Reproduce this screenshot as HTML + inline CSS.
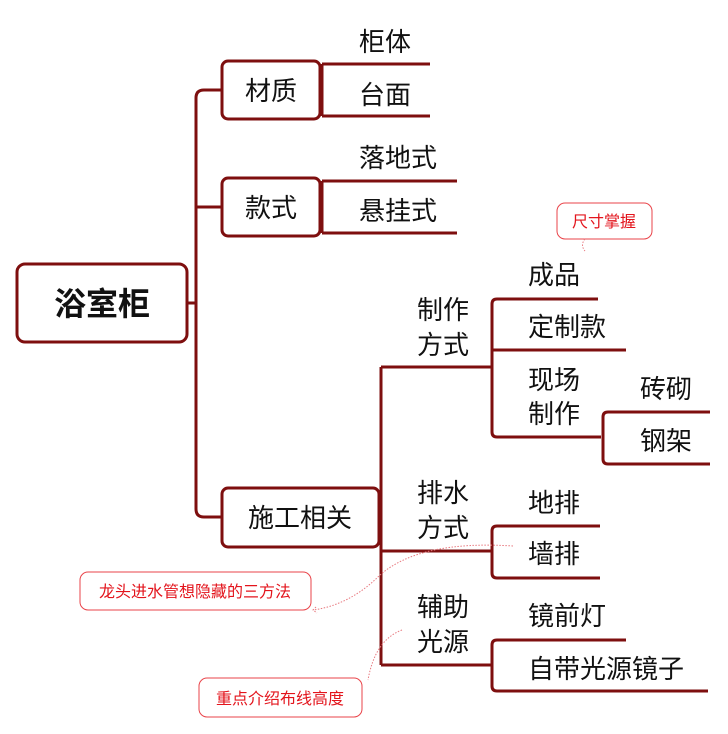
<!DOCTYPE html>
<html><head><meta charset="utf-8"><style>
html,body{margin:0;padding:0;background:#fff;}
svg{display:block;}
text{font-family:"Liberation Sans","Noto Sans CJK SC",sans-serif;fill:#111;}
.l{font-size:26px;}
.r{font-size:16px;fill:#e3141c;}
</style></head><body>
<svg width="728" height="734" viewBox="0 0 728 734" xmlns="http://www.w3.org/2000/svg">
<g fill="none" stroke="#7e0f0f" stroke-width="3">
<rect x="17" y="264" width="170" height="78" rx="8"/>
<rect x="222" y="61" width="98" height="58" rx="6"/>
<rect x="222" y="178" width="98" height="58" rx="6"/>
<rect x="222" y="488" width="157" height="59" rx="6"/>
<path d="M187 303 H196"/>
<path d="M222 90 H204 Q196 90 196 98 V509 Q196 517 204 517 H222"/>
<path d="M196 207 H222"/>
<path d="M322 64 V116 M322 64 H430 M322 116 H430 M320 90 H322"/>
<path d="M322 181 V233 M322 181 H457 M322 233 H457 M320 207 H322"/>
<path d="M379 517 H381 M381 367 V665 M381 367 H492 M381 551 H492 M381 665 H492"/>
<path d="M598 299 H497 Q492 299 492 304 V432 Q492 437 497 437 H601 M492 350 H626"/>
<path d="M710 412 H608 Q603 412 603 417 V459 Q603 464 608 464 H710"/>
<path d="M600 526 H497 Q492 526 492 531 V573 Q492 578 497 578 H600"/>
<path d="M626 640 H497 Q492 640 492 645 V686 Q492 691 497 691 H708"/>
</g>
<g fill="none" stroke="#e3141c" stroke-width="1" opacity="0.8">
<rect x="557" y="203" width="95" height="36" rx="8"/>
<rect x="80" y="572" width="231" height="38" rx="8"/>
<rect x="199" y="678" width="163" height="39" rx="8"/>
</g>
<g fill="none" stroke="#e87a80" stroke-width="1" stroke-dasharray="1.5,1.5">
<path d="M513 546 Q420 540 380 575 Q350 605 313 610"/>
<path d="M402 630 Q375 640 368 680"/>
<path d="M585 239 Q580 245 585 251"/>
<path d="M316 607 L313 610 L317 613"/>
</g>
<text x="102" y="315" font-size="32" font-weight="bold" text-anchor="middle">浴室柜</text>
<text class="l" x="271" y="100" text-anchor="middle">材质</text>
<text class="l" x="271" y="217" text-anchor="middle">款式</text>
<text class="l" x="300" y="527" text-anchor="middle">施工相关</text>
<text class="l" x="359" y="51">柜体</text>
<text class="l" x="359" y="104">台面</text>
<text class="l" x="359" y="167">落地式</text>
<text class="l" x="359" y="220">悬挂式</text>
<text class="l" x="417" y="319">制作</text>
<text class="l" x="417" y="354">方式</text>
<text class="l" x="417" y="502">排水</text>
<text class="l" x="417" y="537">方式</text>
<text class="l" x="417" y="616">辅助</text>
<text class="l" x="417" y="651">光源</text>
<text class="l" x="528" y="284">成品</text>
<text class="l" x="528" y="336">定制款</text>
<text class="l" x="528" y="389">现场</text>
<text class="l" x="528" y="423">制作</text>
<text class="l" x="640" y="398">砖砌</text>
<text class="l" x="640" y="450">钢架</text>
<text class="l" x="528" y="512">地排</text>
<text class="l" x="528" y="563">墙排</text>
<text class="l" x="528" y="625">镜前灯</text>
<text class="l" x="528" y="678">自带光源镜子</text>
<text class="r" x="604" y="227" text-anchor="middle">尺寸掌握</text>
<text class="r" x="195" y="597" text-anchor="middle">龙头进水管想隐藏的三方法</text>
<text class="r" x="280" y="704" text-anchor="middle">重点介绍布线高度</text>
</svg>
</body></html>
